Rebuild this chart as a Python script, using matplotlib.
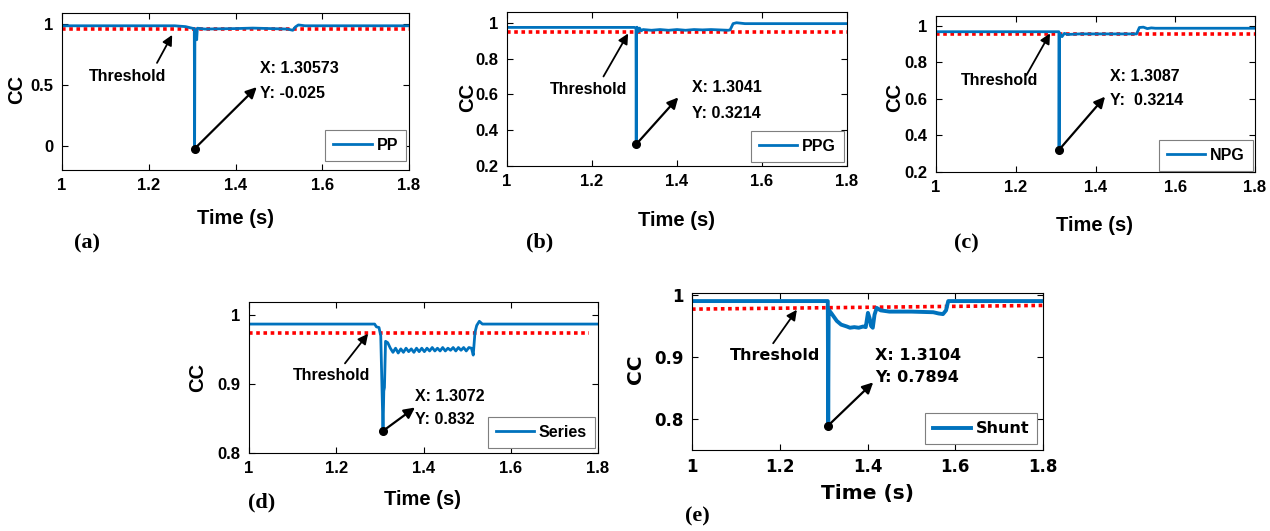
import matplotlib.pyplot as plt
from matplotlib import font_manager

BLUE = '#0072BD'

# ---- data ----
t_pp = [1.0, 1.26, 1.285, 1.300, 1.305, 1.30573, 1.3064, 1.309, 1.3105, 1.312,
        1.33, 1.36, 1.40, 1.44, 1.48, 1.52, 1.532, 1.538, 1.545, 1.56, 1.8]
cc_pp = [0.985, 0.985, 0.978, 0.965, 0.962, -0.025, 0.92, 0.95, 0.87, 0.965,
         0.958, 0.96, 0.962, 0.966, 0.962, 0.958, 0.948, 0.975, 0.992, 0.985, 0.985]

t_ppg = [1.0, 1.300, 1.3035, 1.3041, 1.3047, 1.306, 1.309, 1.312, 1.316, 1.32,
         1.34, 1.36, 1.38, 1.40, 1.42, 1.44, 1.46, 1.48, 1.50, 1.52, 1.525,
         1.532, 1.54, 1.56, 1.8]
cc_ppg = [0.974, 0.974, 0.97, 0.3214, 0.95, 0.975, 0.95, 0.97, 0.955, 0.962,
          0.958, 0.962, 0.958, 0.962, 0.958, 0.962, 0.96, 0.962, 0.96, 0.958, 0.96,
          0.995, 1.0, 0.995, 0.995]

t_npg = [1.0, 1.3082, 1.3087, 1.3095, 1.312, 1.316, 1.322, 1.33, 1.36, 1.40,
         1.44, 1.48, 1.503, 1.51, 1.52, 1.53, 1.54, 1.55, 1.8]
cc_npg = [0.967, 0.967, 0.3214, 0.96, 0.952, 0.94, 0.958, 0.952, 0.955, 0.955,
          0.955, 0.955, 0.955, 0.99, 0.992, 0.984, 0.988, 0.986, 0.986]

t_ser = [1.0, 1.288, 1.292, 1.298, 1.302, 1.3072, 1.309, 1.3105, 1.313, 1.318,
         1.324, 1.330, 1.336, 1.342, 1.348, 1.354, 1.360, 1.366, 1.372, 1.378,
         1.384, 1.390, 1.396, 1.402, 1.408, 1.414, 1.420, 1.426, 1.432, 1.438,
         1.444, 1.450, 1.456, 1.462, 1.468, 1.474, 1.480, 1.486, 1.492, 1.498,
         1.504, 1.510, 1.514, 1.518, 1.522, 1.528, 1.535, 1.545, 1.8]
cc_ser = [0.987, 0.987, 0.983, 0.982, 0.97, 0.832, 0.89, 0.895, 0.962, 0.96,
          0.952, 0.946, 0.952, 0.945, 0.951, 0.946, 0.952, 0.947, 0.951, 0.946,
          0.952, 0.947, 0.952, 0.947, 0.952, 0.948, 0.953, 0.948, 0.952, 0.948,
          0.953, 0.948, 0.952, 0.949, 0.953, 0.948, 0.953, 0.949, 0.953, 0.948,
          0.953, 0.952, 0.942, 0.975, 0.985, 0.991, 0.987, 0.987, 0.987]

t_sh = [1.0, 1.3095, 1.3104, 1.3115, 1.318, 1.33, 1.34, 1.353, 1.36, 1.37,
        1.38, 1.39, 1.396, 1.401, 1.405, 1.408, 1.412, 1.416, 1.421, 1.43,
        1.45, 1.50, 1.55, 1.562, 1.572, 1.579, 1.584, 1.8]
cc_sh = [0.99, 0.99, 0.7894, 0.976, 0.97, 0.958, 0.952, 0.949, 0.947, 0.948,
         0.947, 0.949, 0.948, 0.971, 0.962, 0.95, 0.947, 0.968, 0.979, 0.975,
         0.973, 0.973, 0.972, 0.97, 0.969, 0.975, 0.99, 0.99]

thr_t = [1.0, 1.8]
thr_pp = [0.96, 0.96]
thr_ppg = [0.946, 0.946]
thr_npg = [0.954, 0.954]
thr_ser_t = [1.0, 1.78]
thr_ser = [0.9735, 0.9735]
thr_sh = [0.977, 0.983]

tips = {
    'PP': (1.30573, -0.025, 'X: 1.30573', 'Y: -0.025'),
    'PPG': (1.3041, 0.3214, 'X: 1.3041', 'Y: 0.3214'),
    'NPG': (1.3087, 0.3214, 'X: 1.3087', 'Y:  0.3214'),
    'Series': (1.3072, 0.832, 'X: 1.3072', 'Y: 0.832'),
    'Shunt': (1.3104, 0.7894, 'X: 1.3104', 'Y: 0.7894'),
}

xticks = [1, 1.2, 1.4, 1.6, 1.8]
xtick_labels = ['1', '1.2', '1.4', '1.6', '1.8']

# narrow Arial-like face if the machine has it
names = {f.name for f in font_manager.fontManager.ttflist}
NARROW = 'Liberation Sans Narrow' if 'Liberation Sans Narrow' in names else 'Liberation Sans'
BIG = 1.12 if NARROW == 'Liberation Sans Narrow' else 1.0

W, H = 1270, 531
fig = plt.figure(figsize=(12.7, 5.31), dpi=100)


def px_axes(l, t, r, b):
    return fig.add_axes([l / W, 1 - b / H, (r - l) / W, (b - t) / H])


panels = [
    dict(name='PP', t=t_pp, cc=cc_pp, tt=thr_t, thr=thr_pp, rect=(62, 13, 409, 170),
         ylim=(-0.2, 1.09), yticks=[0, 0.5, 1], ylab=['0', '0.5', '1'],
         font=NARROW, k=BIG, lw=2.0,
         xlab=(0.499, -0.306), ylabp=(-0.130, 0.51), leg=(0.991, 0.057),
         text_x=1.456, tx_y=0.637, ty_y=0.432, head=(1.449, 0.481),
         thr_txt=(1.152, 0.566), thr_tail=(1.219, 0.68), thr_head=(1.254, 0.91),
         tag='(a)', tagpos=(87, 243)),
    dict(name='PPG', t=t_ppg, cc=cc_ppg, tt=thr_t, thr=thr_ppg, rect=(507, 12, 847, 166),
         ylim=(0.2, 1.06), yticks=[0.2, 0.4, 0.6, 0.8, 1], ylab=['0.2', '0.4', '0.6', '0.8', '1'],
         font=NARROW, k=BIG, lw=2.0,
         xlab=(0.5, -0.351), ylabp=(-0.115, 0.448), leg=(0.991, 0.028),
         text_x=1.4346, tx_y=0.64, ty_y=0.494, head=(1.403, 0.583),
         thr_txt=(1.191, 0.628), thr_tail=(1.227, 0.70), thr_head=(1.285, 0.94),
         tag='(b)', tagpos=(540, 242)),
    dict(name='NPG', t=t_npg, cc=cc_npg, tt=thr_t, thr=thr_npg, rect=(936, 16, 1255, 172),
         ylim=(0.2, 1.053), yticks=[0.2, 0.4, 0.6, 0.8, 1], ylab=['0.2', '0.4', '0.6', '0.8', '1'],
         font=NARROW, k=BIG, lw=2.0,
         xlab=(0.498, -0.34), ylabp=(-0.129, 0.48), leg=(0.993, 0.006),
         text_x=1.436, tx_y=0.72, ty_y=0.59, head=(1.424, 0.612),
         thr_txt=(1.16, 0.698), thr_tail=(1.227, 0.73), thr_head=(1.286, 0.958),
         tag='(c)', tagpos=(966, 243)),
    dict(name='Series', t=t_ser, cc=cc_ser, tt=thr_ser_t, thr=thr_ser, rect=(249, 302, 598, 453),
         ylim=(0.8, 1.019), yticks=[0.8, 0.9, 1], ylab=['0.8', '0.9', '1'],
         font='Liberation Sans', k=1.0, lw=2.0,
         xlab=(0.496, -0.311), ylabp=(-0.146, 0.497), leg=(0.991, 0.035),
         text_x=1.3805, tx_y=0.882, ty_y=0.848, head=(1.3805, 0.866),
         thr_txt=(1.19, 0.912), thr_tail=(1.22, 0.93), thr_head=(1.273, 0.973),
         tag='(d)', tagpos=(262, 502)),
    dict(name='Shunt', t=t_sh, cc=cc_sh, tt=thr_t, thr=thr_sh, rect=(692, 293, 1043, 450),
         ylim=(0.75, 1.003), yticks=[0.8, 0.9, 1], ylab=['0.8', '0.9', '1'],
         font='DejaVu Sans', k=1.0, lw=2.8,
         xlab=(0.499, -0.274), ylabp=(-0.162, 0.516), leg=(0.984, 0.036),
         text_x=1.417, tx_y=0.902, ty_y=0.867, head=(1.413, 0.859),
         thr_txt=(1.189, 0.902), thr_tail=(1.185, 0.922), thr_head=(1.239, 0.976),
         tag='(e)', tagpos=(697, 516)),
]

for p in panels:
    ax = px_axes(*p['rect'])
    f = p['font']
    k = p['k']
    ax.plot(p['tt'], p['thr'], color='red', ls=(0, (1, 1)), lw=2.6)
    ax.plot(p['t'], p['cc'], color=BLUE, lw=p['lw'], label=p['name'])
    ax.set_xlim(1, 1.8)
    ax.set_ylim(*p['ylim'])
    ax.set_xticks(xticks)
    ax.set_xticklabels(xtick_labels, fontfamily=f, fontweight='bold', fontsize=12 * k)
    ax.set_yticks(p['yticks'])
    ax.set_yticklabels(p['ylab'], fontfamily=f, fontweight='bold', fontsize=12 * k)
    ax.tick_params(direction='in', length=4, width=0.8, top=True, right=True, pad=6)
    for s in ax.spines.values():
        s.set_linewidth(0.8)

    ax.set_xlabel('Time (s)', fontfamily=f, fontweight='bold', fontsize=14.5 * k, va='center')
    ax.xaxis.set_label_coords(*p['xlab'])
    ax.set_ylabel('CC', fontfamily=f, fontweight='bold', fontsize=14.5 * k, va='center')
    ax.yaxis.set_label_coords(*p['ylabp'])

    leg = ax.legend(loc='lower right', bbox_to_anchor=p['leg'], borderaxespad=0,
                    fancybox=False, framealpha=1, edgecolor='#7f7f7f',
                    handlelength=2.4, handletextpad=0.3, borderpad=0.5,
                    prop=dict(family=f, weight='bold', size=11.5 * k))
    leg.get_frame().set_linewidth(0.8)

    # data tip
    x0, y0, sx, sy = tips[p['name']]
    ax.plot([x0], [y0], 'o', color='k', ms=5.5, zorder=5)
    ax.annotate('', xy=p['head'], xytext=(x0, y0),
                arrowprops=dict(arrowstyle='-|>', color='k', lw=1.6, mutation_scale=16,
                                shrinkA=0, shrinkB=0))
    ax.text(p['text_x'], p['tx_y'], sx, ha='left', va='center', fontfamily=f,
            fontweight='bold', fontsize=11.5 * k)
    ax.text(p['text_x'], p['ty_y'], sy, ha='left', va='center', fontfamily=f,
            fontweight='bold', fontsize=11.5 * k)

    # threshold label
    ax.annotate('', xy=p['thr_head'], xytext=p['thr_tail'],
                arrowprops=dict(arrowstyle='-|>', color='k', lw=1.3, mutation_scale=15,
                                shrinkA=0, shrinkB=0))
    ax.text(*p['thr_txt'], 'Threshold', ha='center', va='center', fontfamily=f,
            fontweight='bold', fontsize=11.5 * k)

    fig.text(p['tagpos'][0] / W, 1 - p['tagpos'][1] / H, p['tag'], ha='center', va='center',
             fontfamily='Liberation Serif', fontweight='bold', fontsize=16)

fig.savefig('out.png', dpi=100)
